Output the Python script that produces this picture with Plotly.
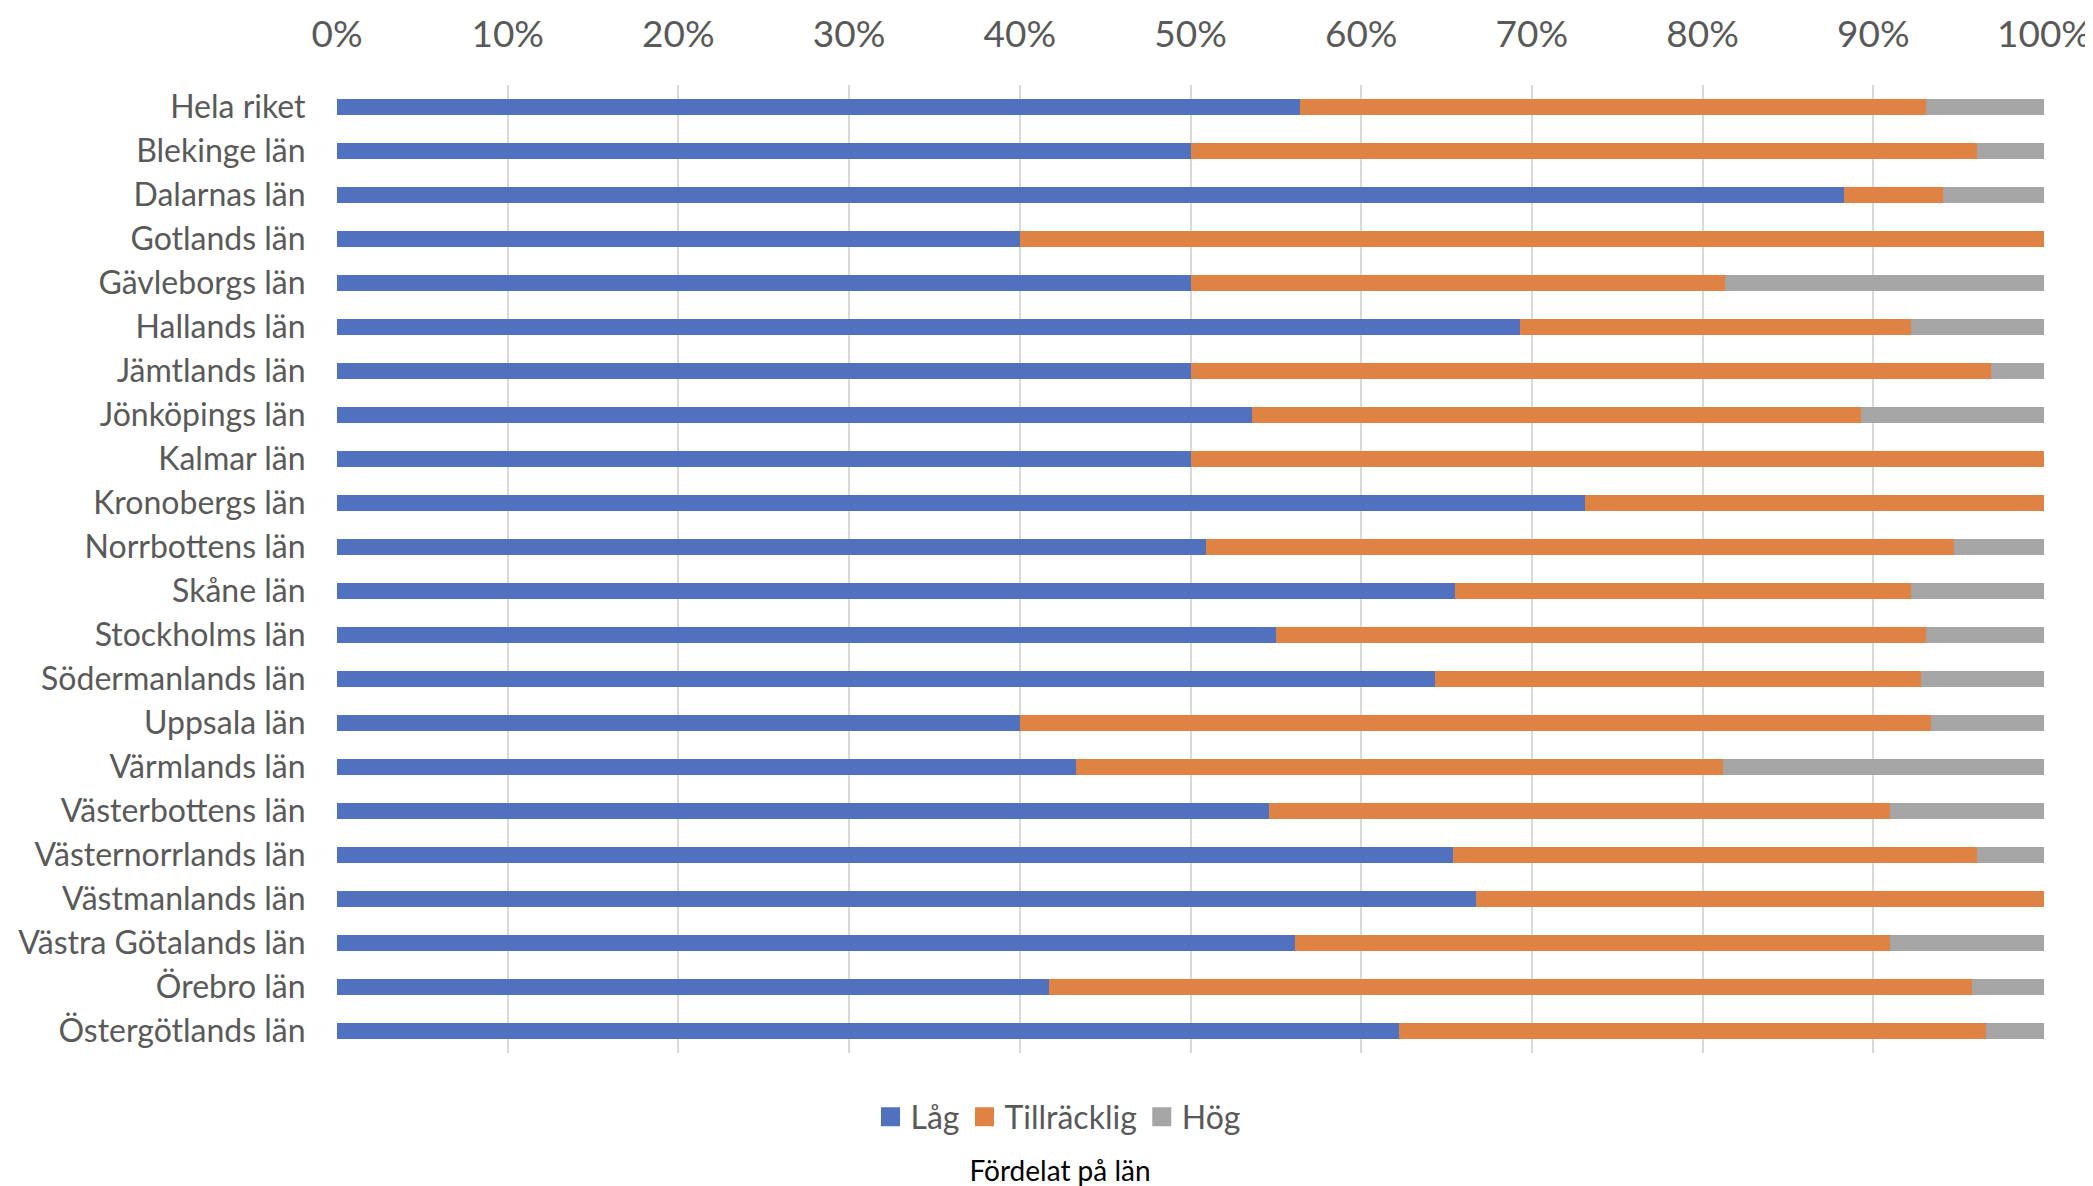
import plotly.graph_objects as go

categories = ["Hela riket", "Blekinge län", "Dalarnas län", "Gotlands län", "Gävleborgs län",
              "Hallands län", "Jämtlands län", "Jönköpings län", "Kalmar län", "Kronobergs län",
              "Norrbottens län", "Skåne län", "Stockholms län", "Södermanlands län", "Uppsala län",
              "Värmlands län", "Västerbottens län", "Västernorrlands län", "Västmanlands län",
              "Västra Götalands län", "Örebro län", "Östergötlands län"]

lag = [56.4, 50.0, 88.3, 40.0, 50.0, 69.3, 50.0, 53.6, 50.0, 73.1, 50.9, 65.5,
       55.0, 64.3, 40.0, 43.3, 54.6, 65.4, 66.7, 56.1, 41.7, 62.2]
tillracklig = [36.7, 46.1, 5.8, 60.0, 31.3, 22.9, 46.9, 35.7, 50.0, 26.9, 43.8, 26.7,
               38.1, 28.5, 53.4, 37.9, 36.4, 30.7, 33.3, 34.9, 54.1, 34.4]
hog = [6.9, 3.9, 5.9, 0.0, 18.7, 7.8, 3.1, 10.7, 0.0, 0.0, 5.3, 7.8,
       6.9, 7.2, 6.6, 18.8, 9.0, 3.9, 0.0, 9.0, 4.2, 3.4]

series_names = ["Låg", "Tillräcklig", "Hög"]
series_colors = ["#4F71BE", "#DF8344", "#A5A5A5"]
tick_vals = [0, 10, 20, 30, 40, 50, 60, 70, 80, 90, 100]
tick_text = ["0%", "10%", "20%", "30%", "40%", "50%", "60%", "70%", "80%", "90%", "100%"]

W, H = 2085, 1178  # page has an 8px body margin

fig = go.Figure()
for name, vals, col in zip(series_names, [lag, tillracklig, hog], series_colors):
    fig.add_trace(go.Bar(y=categories, x=vals, name=name, orientation="h",
                         marker=dict(color=col, line=dict(width=0)), showlegend=False))
# legend entries with larger square swatches
for name, col in zip(series_names, series_colors):
    fig.add_trace(go.Scatter(x=[None], y=[None], mode="markers", name=name,
                             marker=dict(symbol="square", size=16, color=col,
                                         line=dict(width=3, color=col)),
                             showlegend=True))

fig.update_layout(
    barmode="stack",
    bargap=0.62,
    width=W, height=H,
    margin=dict(l=329, r=49, t=77, b=133),
    paper_bgcolor="white", plot_bgcolor="white",
    font=dict(family="Lato", color="#595959"),
    title=dict(text="Fördelat på län", font=dict(family="Lato", size=28, color="#000000"),
               xref="container", x=1052 / W, xanchor="center",
               yref="container", y=1 - 1163 / H, yanchor="middle",
               pad=dict(t=0, b=0, l=0, r=0)),
    legend=dict(orientation="h", xref="container", x=1050 / W, xanchor="center",
                yref="container", y=1 - 1109 / H, yanchor="middle",
                font=dict(size=32, color="#595959"), traceorder="normal",
                itemwidth=30),
    showlegend=True,
)
fig.update_xaxes(side="top", range=[0, 100], tickvals=tick_vals, ticktext=tick_text,
                 showgrid=True, gridcolor="#D9D9D9", gridwidth=1.5, zeroline=False,
                 showline=False, ticks="outside", ticklen=22, tickcolor="rgba(0,0,0,0)",
                 tickfont=dict(size=37, color="#595959"), fixedrange=True, automargin=False)
fig.update_yaxes(autorange="reversed", showgrid=False, zeroline=False, showline=False,
                 ticks="outside", ticklen=24, tickcolor="rgba(0,0,0,0)",
                 tickfont=dict(size=32, color="#595959"), fixedrange=True, automargin=False)

fig.write_html("out.html")
